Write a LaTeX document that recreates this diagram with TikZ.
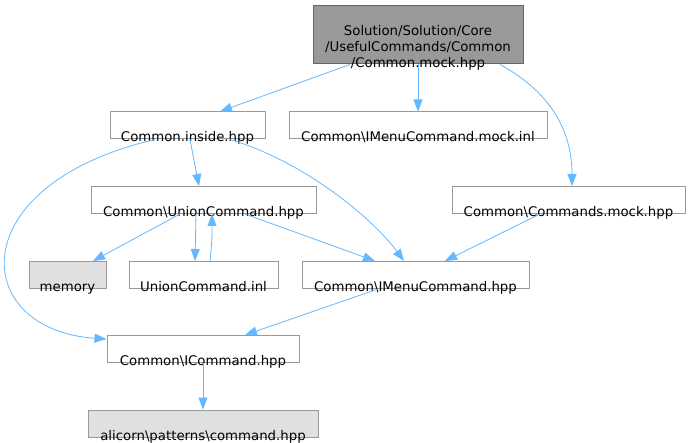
\documentclass[tikz,border=0pt]{standalone}
\usepackage{fontspec}
\setmainfont{DejaVu Sans}
\usetikzlibrary{arrows.meta}
\definecolor{edgeblue}{HTML}{63B8FF}
\definecolor{boxgray}{HTML}{999999}
\definecolor{topline}{HTML}{666666}
\definecolor{extfill}{HTML}{E0E0E0}
\newcommand\fname[2][3pt]{\raisebox{-#1}[0pt][0pt]{#2}}
\tikzset{>={Triangle[length=12pt,width=9pt]},
  file/.style={draw=boxgray, line width=1pt, fill=white, inner sep=0pt,
    minimum height=27pt, text height=27pt, text depth=0pt,
    font=\fontsize{13.3}{16}\selectfont},
  extfile/.style={file, fill=extfill},
  dep/.style={->, draw=edgeblue, line width=0.8pt}}

\begin{document}
\begin{tikzpicture}[x=1pt, y=-1pt]
\useasboundingbox (0,0) rectangle (690,443);
\node[file, fill=boxgray, draw=topline, minimum width=210pt, minimum height=58pt,
  text height=58pt] (mock) at (418,35)
  {\fname[4pt]{\begin{tabular}[b]{@{}c@{}}Solution/Solution/Core\\/UsefulCommands/Common\\/Common.mock.hpp\end{tabular}}};
\node[file, minimum width=155pt] (inside) at (187.5,125.5) {\fname{Common.inside.hpp}};
\node[file, minimum width=258pt] (menumockinl) at (418,125.5) {\fname{Common\textbackslash IMenuCommand.mock.inl}};
\node[file, minimum width=233pt] (cmdsmock) at (568.5,200) {\fname{Common\textbackslash Commands.mock.hpp}};
\node[file, minimum width=225pt] (union) at (203.5,200) {\fname{Common\textbackslash UnionCommand.hpp}};
\node[extfile, minimum width=77pt] (memory) at (67.5,275) {\fname{memory}};
\node[file, minimum width=149pt] (unioninl) at (203.5,275) {\fname{UnionCommand.inl}};
\node[file, minimum width=227pt] (menucmd) at (415.5,275) {\fname{Common\textbackslash IMenuCommand.hpp}};
\node[file, minimum width=192pt] (icmd) at (203,349) {\fname{Common\textbackslash ICommand.hpp}};
\node[extfile, minimum width=230pt] (pattern) at (203,423.5) {\fname{alicorn\textbackslash patterns\textbackslash command.hpp}};
% edges
\draw[dep] ([xshift=-68pt]mock.south) -- ([xshift=32.5pt]inside.north);
\draw[dep] (mock.south) -- (menumockinl.north);
\draw[dep] ([xshift=82pt]mock.south) .. controls (550,92) and (572,130) .. ([xshift=3.5pt]cmdsmock.north);
\draw[dep] ([xshift=2.5pt]inside.south) -- ([xshift=-4.5pt]union.north);
\draw[dep] ([xshift=42.5pt]inside.south) .. controls (300,160) and (370,215) .. ([xshift=-11.5pt]menucmd.north);
\draw[dep] ([xshift=-32.5pt]inside.south) .. controls (-40,185) and (-30,330) .. ([yshift=10pt]icmd.west);
\draw[dep] ([xshift=-23.5pt]union.south) -- ([xshift=25.5pt]memory.north);
\draw[dep] ([xshift=-7.5pt]union.south) -- ([xshift=-8.5pt]unioninl.north);
\draw[dep] ([xshift=6.5pt]unioninl.north) .. controls (212,240) .. ([xshift=8.5pt]union.south);
\draw[dep] ([xshift=41.5pt]union.south) -- ([xshift=-40.5pt]menucmd.north);
\draw[dep] ([xshift=-28.5pt]cmdsmock.south) -- ([xshift=29.5pt]menucmd.north);
\draw[dep] ([xshift=-37.5pt]menucmd.south) -- ([xshift=42pt]icmd.north);
\draw[dep] (icmd.south) -- (pattern.north);
\end{tikzpicture}
\end{document}
